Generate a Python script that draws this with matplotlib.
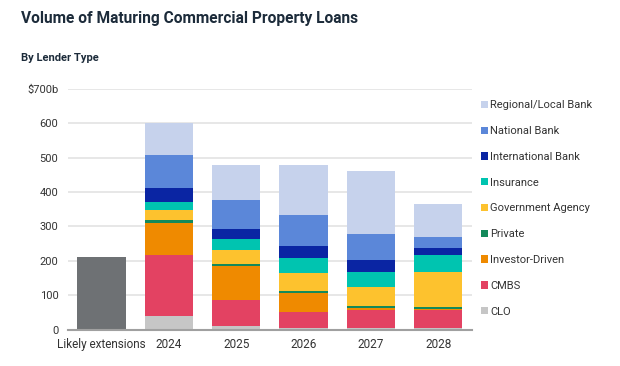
import matplotlib
matplotlib.use("Agg")
import matplotlib.pyplot as plt
import numpy as np

plt.rcParams["font.family"] = ["Roboto", "DejaVu Sans"]

# --- data (values in $b) ---
years = ["2024", "2025", "2026", "2027", "2028"]
likely_extensions = 210

series_names = ["CLO", "CMBS", "Investor-Driven", "Private", "Government Agency",
                "Insurance", "International Bank", "National Bank", "Regional/Local Bank"]
clo = [40, 11, 3, 3, 3]
cmbs = [176, 74, 49, 53, 55]
investor = [95, 100, 55, 7, 2]
private = [7, 7, 5, 5, 6]
government = [29, 39, 52, 57, 101]
insurance = [24, 33, 45, 43, 51]
international = [41, 30, 34, 34, 20]
national = [96, 83, 89, 76, 31]
regional = [92, 103, 146, 184, 95]

series_values = [clo, cmbs, investor, private, government,
                 insurance, international, national, regional]
series_colors = ["#c6c6c6", "#e34262", "#ef8a00", "#13895a", "#fdc22e",
                 "#00c4b0", "#0a25a3", "#5b87d9", "#c6d2ec"]
ext_color = "#6e7174"

yticks = [0, 100, 200, 300, 400, 500, 600, 700]
ytick_labels = ["0", "100", "200", "300", "400", "500", "600", "$700b"]

fig = plt.figure(figsize=(6.2, 3.66), dpi=100)
ax = fig.add_axes([0.1097, 0.0997, 0.6513, 0.6571])

xpos = np.arange(len(years) + 1)
width = 0.72

ax.bar(xpos[0], likely_extensions, width=width, color=ext_color, zorder=3)

bottom = np.zeros(len(years))
handles = []
for name, vals, col in zip(series_names, series_values, series_colors):
    b = ax.bar(xpos[1:], vals, width=width, bottom=bottom, color=col,
               label=name, zorder=3)
    handles.append(b)
    bottom += np.array(vals)

ax.set_xlim(-0.5, 5.5)
ax.set_ylim(0, 700)
ax.set_yticks(yticks)
ax.set_yticklabels(ytick_labels)
ax.set_xticks(xpos)
ax.set_xticklabels(["Likely extensions"] + years)

ax.grid(axis="y", color="#e3e3e3", linewidth=1.2, zorder=0)
ax.set_axisbelow(True)
for s in ["top", "right", "left"]:
    ax.spines[s].set_visible(False)
ax.spines["bottom"].set_color("#a0a0a0")
ax.spines["bottom"].set_linewidth(1.5)
ax.spines["bottom"].set_zorder(4)
ax.tick_params(axis="both", length=0, labelsize=8, colors="#333333")
ax.tick_params(axis="x", pad=6, labelsize=8.5)
ax.tick_params(axis="y", pad=7)

leg = ax.legend(handles[::-1], series_names[::-1], loc="upper left",
                bbox_to_anchor=(0.768, 0.738), bbox_transform=fig.transFigure,
                frameon=False, fontsize=8, handlelength=0.65, handleheight=0.65,
                handletextpad=0.2, labelspacing=1.42, borderaxespad=0)
for t in leg.get_texts():
    t.set_color("#333333")

fig.text(0.034, 0.95, "Volume of Maturing Commercial Property Loans",
         fontsize=11.2, fontweight="bold", color="#1c2b3a", va="center")
fig.text(0.034, 0.842, "By Lender Type", fontsize=8, fontweight="bold",
         color="#1c2b3a", va="center")

fig.savefig("out.png", dpi=100)
